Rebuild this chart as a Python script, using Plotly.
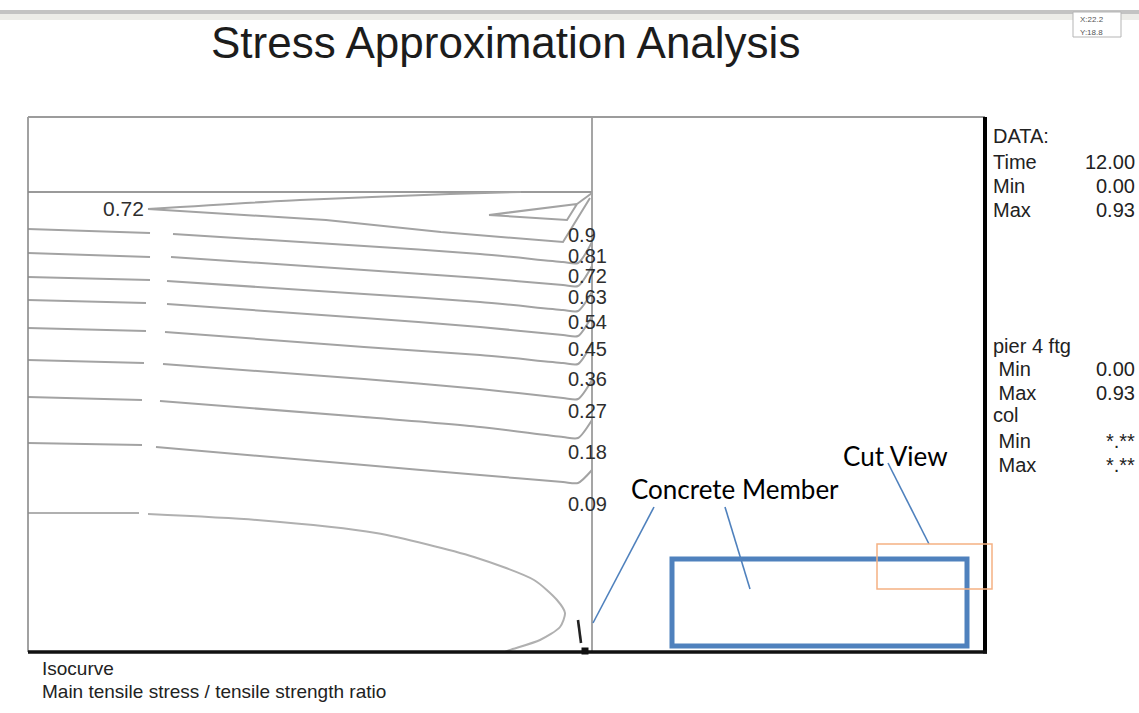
import plotly.graph_objects as go

# ---- contour paths (x, y in cm from the lower-left corner of the section) ----
# None splits a path where the isocurve is interrupted
wedge_upper_x = [120, 272, 422, 493]
wedge_upper_y = [443, 452, 458, 460]
wedge_lower_x = [120, 298, 413, 535, 562]
wedge_lower_y = [443, 432, 420, 410, 454]

tri_x = [461, 549, 539, 461]
tri_y = [437, 448, 432, 437]
tri_link_x = [549, 564]
tri_link_y = [448, 459]

c1_x = [0, 122, None, 145, 336, 452, 535, 550, 564]
c1_y = [423, 419, None, 418, 406, 398, 390, 389, 410]
c2_x = [0, 122, None, 143, 336, 452, 535, 550, 564]
c2_y = [399, 395, None, 395, 382, 374, 367, 366, 386]
c3_x = [0, 122, None, 139, 336, 452, 535, 550, 564]
c3_y = [375, 372, None, 371, 358, 350, 342, 341, 360]
c4_x = [0, 118, None, 139, 336, 452, 535, 550, 564]
c4_y = [352, 349, None, 348, 334, 325, 317, 316, 336]
c5_x = [0, 118, None, 137, 336, 452, 535, 550, 564]
c5_y = [324, 321, None, 320, 305, 297, 289, 288, 309]
c6_x = [0, 116, None, 135, 336, 452, 535, 550, 564]
c6_y = [292, 289, None, 288, 273, 263, 254, 253, 272]
c7_x = [0, 114, None, 132, 336, 452, 535, 550, 564]
c7_y = [255, 252, None, 251, 235, 225, 215, 214, 232]
c8_x = [0, 114, None, 128, 336, 452, 535, 550, 564]
c8_y = [209, 207, None, 205, 187, 177, 170, 169, 182]

# lowest isocurve closing on the base
c9_x = [0, 111, None, 120, 229, 348, 446, 506, 529, 537, 532, 512, 482, 477]
c9_y = [139, 139, None, 138, 132, 119, 95, 72, 52, 39, 25, 12, 2, 0]

# section outlines: column face and footing top
face_x = [564, 564]
face_y = [0, 535]
top_x = [0, 564]
top_y = [460, 460]

# short dark stroke at the column foot
foot_x = [550, 553]
foot_y = [32, 9]

# isocurve level labels
level_text = ["0.9", "0.81", "0.72", "0.63", "0.54", "0.45", "0.36", "0.27", "0.18", "0.09"]
level_y = [417, 396, 376, 355, 330, 303, 273, 241, 200, 148]
level_x = 538
left_label = "0.72"

# data panel
panel_rows = [
    ("DATA:", ""), ("Time", "12.00"), ("Min", "0.00"), ("Max", "0.93"),
    ("pier 4 ftg", ""), (" Min", "0.00"), (" Max", "0.93"), ("col", ""),
    (" Min", "*.**"), (" Max", "*.**"),
]
panel_y = [516, 490, 466, 442, 306, 283, 259, 237, 211, 187]

GRAY = "#a3a3a3"
TEXT = "#222222"
BLUE = "#4f81bd"

fig = go.Figure()

def curve(x, y, color=GRAY, width=2.0, smooth=False):
    line = dict(color=color, width=width)
    if smooth:
        line.update(shape="spline", smoothing=0.7)
    fig.add_trace(go.Scatter(x=x, y=y, mode="lines", connectgaps=False, line=line,
                             hoverinfo="skip", showlegend=False))

curve(face_x, face_y, "#8f8f8f", 1.6)
curve(top_x, top_y, "#9a9a9a", 1.8)
curve(wedge_upper_x, wedge_upper_y, smooth=True)
curve(wedge_lower_x, wedge_lower_y)
curve(tri_x, tri_y)
curve(tri_link_x, tri_link_y)
for cx, cy in [(c1_x, c1_y), (c2_x, c2_y), (c3_x, c3_y), (c4_x, c4_y),
               (c5_x, c5_y), (c6_x, c6_y), (c7_x, c7_y), (c8_x, c8_y)]:
    curve(cx, cy, smooth=True)
curve(c9_x, c9_y, "#b0b0b0", 2.0, smooth=True)
curve(foot_x, foot_y, "#222222", 2.6)
fig.add_trace(go.Scatter(x=[557], y=[1], mode="markers",
                         marker=dict(symbol="square", size=7, color="#111111"),
                         hoverinfo="skip", showlegend=False))

ann = []
FONT = "Liberation Sans, Arial, sans-serif"
for t, y in zip(level_text, level_y):
    ann.append(dict(x=level_x, y=y, text=t, xanchor="left", yanchor="middle",
                    showarrow=False, font=dict(family=FONT, size=20, color="#2e2e2e")))
ann.append(dict(x=118, y=444, text=left_label, xanchor="right", yanchor="middle",
                showarrow=False, font=dict(family=FONT, size=21, color="#2e2e2e")))

for (lab, val), y in zip(panel_rows, panel_y):
    ann.append(dict(x=963, y=y, text=lab.replace(" ", "&nbsp;"), xanchor="left",
                    yanchor="middle", showarrow=False,
                    font=dict(family=FONT, size=20, color=TEXT)))
    if val:
        ann.append(dict(x=1109, y=y, text=val, xanchor="right", yanchor="middle",
                        showarrow=False, font=dict(family=FONT, size=20, color=TEXT)))

ann.append(dict(x=477, y=610, text="Stress Approximation Analysis", xanchor="center",
                yanchor="middle", showarrow=False,
                font=dict(family=FONT, size=44, color="#1c1c1c")))
ann.append(dict(x=12, y=-16, text="Isocurve", xanchor="left", yanchor="middle",
                showarrow=False, font=dict(family=FONT, size=19, color=TEXT)))
ann.append(dict(x=12, y=-39, text="Main tensile stress / tensile strength ratio",
                xanchor="left", yanchor="middle", showarrow=False,
                font=dict(family=FONT, size=19, color=TEXT)))

CALLOUT = "Lato, Carlito, sans-serif"
ann.append(dict(x=707, y=163, text="Concrete Member", xanchor="center", yanchor="middle",
                showarrow=False, font=dict(family=CALLOUT, size=26, color="#000000")))
ann.append(dict(x=867, y=196, text="Cut View", xanchor="center", yanchor="middle",
                showarrow=False, font=dict(family=CALLOUT, size=26, color="#000000")))

# cursor readout box
ann.append(dict(x=1050, y=633, text="X:22.2", xanchor="left", yanchor="middle",
                showarrow=False, font=dict(family=FONT, size=8, color="#555555")))
ann.append(dict(x=1050, y=620, text="Y:18.8", xanchor="left", yanchor="middle",
                showarrow=False, font=dict(family=FONT, size=8, color="#555555")))

shapes = [
    # window strip along the top edge
    dict(type="rect", x0=-28, x1=1111, y0=638, y1=642, line=dict(width=0),
         fillcolor="#c3c3c3", layer="below"),
    dict(type="rect", x0=-28, x1=1111, y0=632, y1=638, line=dict(width=0),
         fillcolor="#ecece8", layer="below"),
    dict(type="rect", x0=1045, x1=1093, y0=615, y1=640,
         line=dict(color="#b5b5b5", width=1), fillcolor="#ffffff"),
    # frame
    dict(type="line", x0=0, x1=0, y0=0, y1=535, line=dict(color="#8a8a8a", width=1.6)),
    dict(type="line", x0=0, x1=957, y0=535, y1=535, line=dict(color="#9c9c9c", width=2.2)),
    dict(type="line", x0=957, x1=957, y0=-1.5, y1=535, line=dict(color="#000000", width=4)),
    dict(type="line", x0=0, x1=959, y0=0, y1=0, line=dict(color="#111111", width=3.5)),
    # callouts
    dict(type="line", x0=626, y0=145, x1=565, y1=29, line=dict(color=BLUE, width=1.6)),
    dict(type="line", x0=697, y0=145, x1=722, y1=63, line=dict(color=BLUE, width=1.6)),
    dict(type="line", x0=860, y0=189, x1=901, y1=108, line=dict(color=BLUE, width=1.6)),
    dict(type="rect", x0=644, x1=939, y0=6, y1=93, line=dict(color=BLUE, width=5)),
    dict(type="rect", x0=849, x1=964, y0=63, y1=108, line=dict(color="#f5b183", width=1.5)),
]

fig.update_layout(
    width=1139, height=713,
    margin=dict(l=0, r=0, t=0, b=0),
    paper_bgcolor="#ffffff", plot_bgcolor="#ffffff",
    xaxis=dict(range=[-28, 1111], visible=False, fixedrange=True),
    yaxis=dict(range=[-61, 652], visible=False, fixedrange=True),
    annotations=ann, shapes=shapes, showlegend=False,
)

fig.write_html("out.html")
